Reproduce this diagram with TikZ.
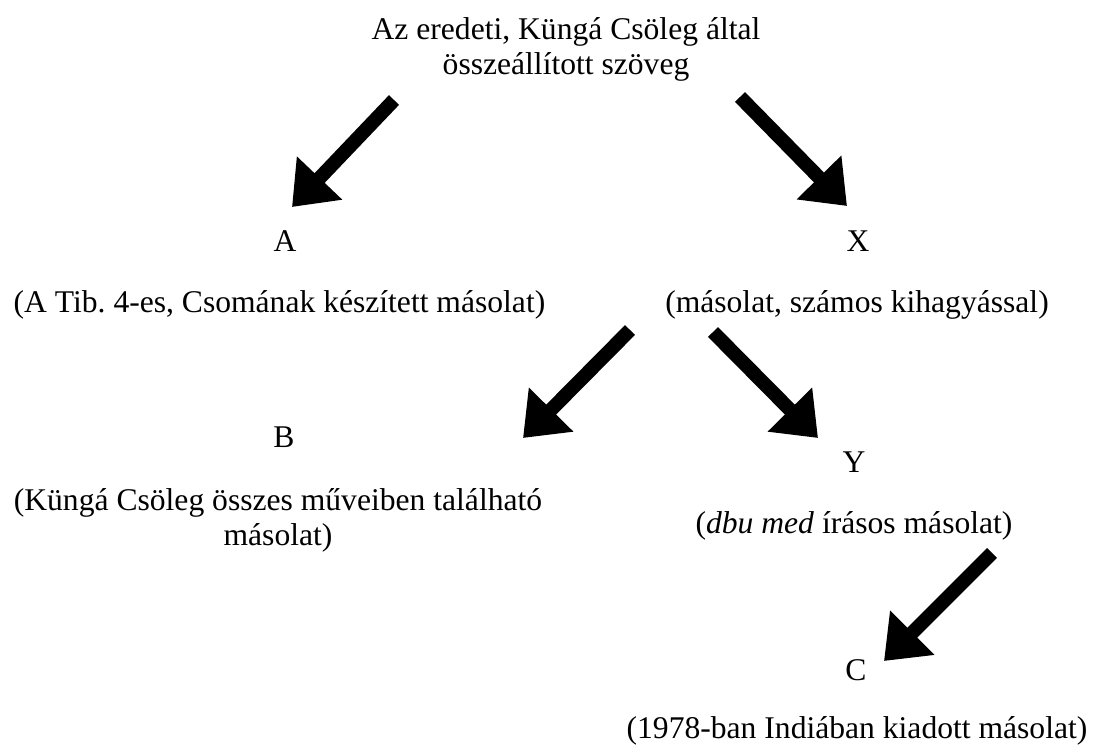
\documentclass[tikz,border=0pt]{standalone}
\usepackage{fontspec}
\setmainfont{Liberation Serif}
\usetikzlibrary{arrows.meta}
\frenchspacing

\begin{document}
\begin{tikzpicture}[
        x=0.75pt, y=-0.75pt,
        every node/.style={font=\fontsize{23.7}{26.3}\selectfont, inner sep=0pt},
        txt/.style={align=center},
        bigarrow/.style={line width=10.5pt, draw=black, -{Triangle[length=30pt,width=45pt]}},
    ]

        \useasboundingbox (0,0) rectangle (1093,745);

        \node[txt] (root) at (566,49) {Az eredeti, Küngá Csöleg által\\összeállított szöveg};
        \node (A) at (285,241) {A};
        \node[txt] (Adesc) at (279.5,305) {(A Tib. 4-es, Csomának készített másolat)};
        \node (X) at (858,241) {X};
        \node[txt] (Xdesc) at (857,305) {(másolat, számos kihagyással)};
        \node (B) at (284,437) {B};
        \node[txt] (Bdesc) at (278,520) {(Küngá Csöleg összes műveiben található\\másolat)};
        \node (Y) at (854,462) {Y};
        \node[txt] (Ydesc) at (854,526) {(\textit{dbu med} írásos másolat)};
        \node (C) at (856,670) {C};
        \node[txt] (Cdesc) at (857,731) {(1978-ban Indiában kiadott másolat)};

        \coordinate (rootA) at (394,100);
        \coordinate (toA) at (292,207);
        \coordinate (rootX) at (740,97);
        \coordinate (toX) at (847,206);
        \coordinate (XB) at (630,330);
        \coordinate (toB) at (523,438);
        \coordinate (XY) at (713,332);
        \coordinate (toY) at (818,438);
        \coordinate (YC) at (992,553);
        \coordinate (toC) at (884,661);

        \draw[bigarrow] (rootA) -- (toA);
        \draw[bigarrow] (rootX) -- (toX);
        \draw[bigarrow] (XB) -- (toB);
        \draw[bigarrow] (XY) -- (toY);
        \draw[bigarrow] (YC) -- (toC);

    \end{tikzpicture}
\end{document}
